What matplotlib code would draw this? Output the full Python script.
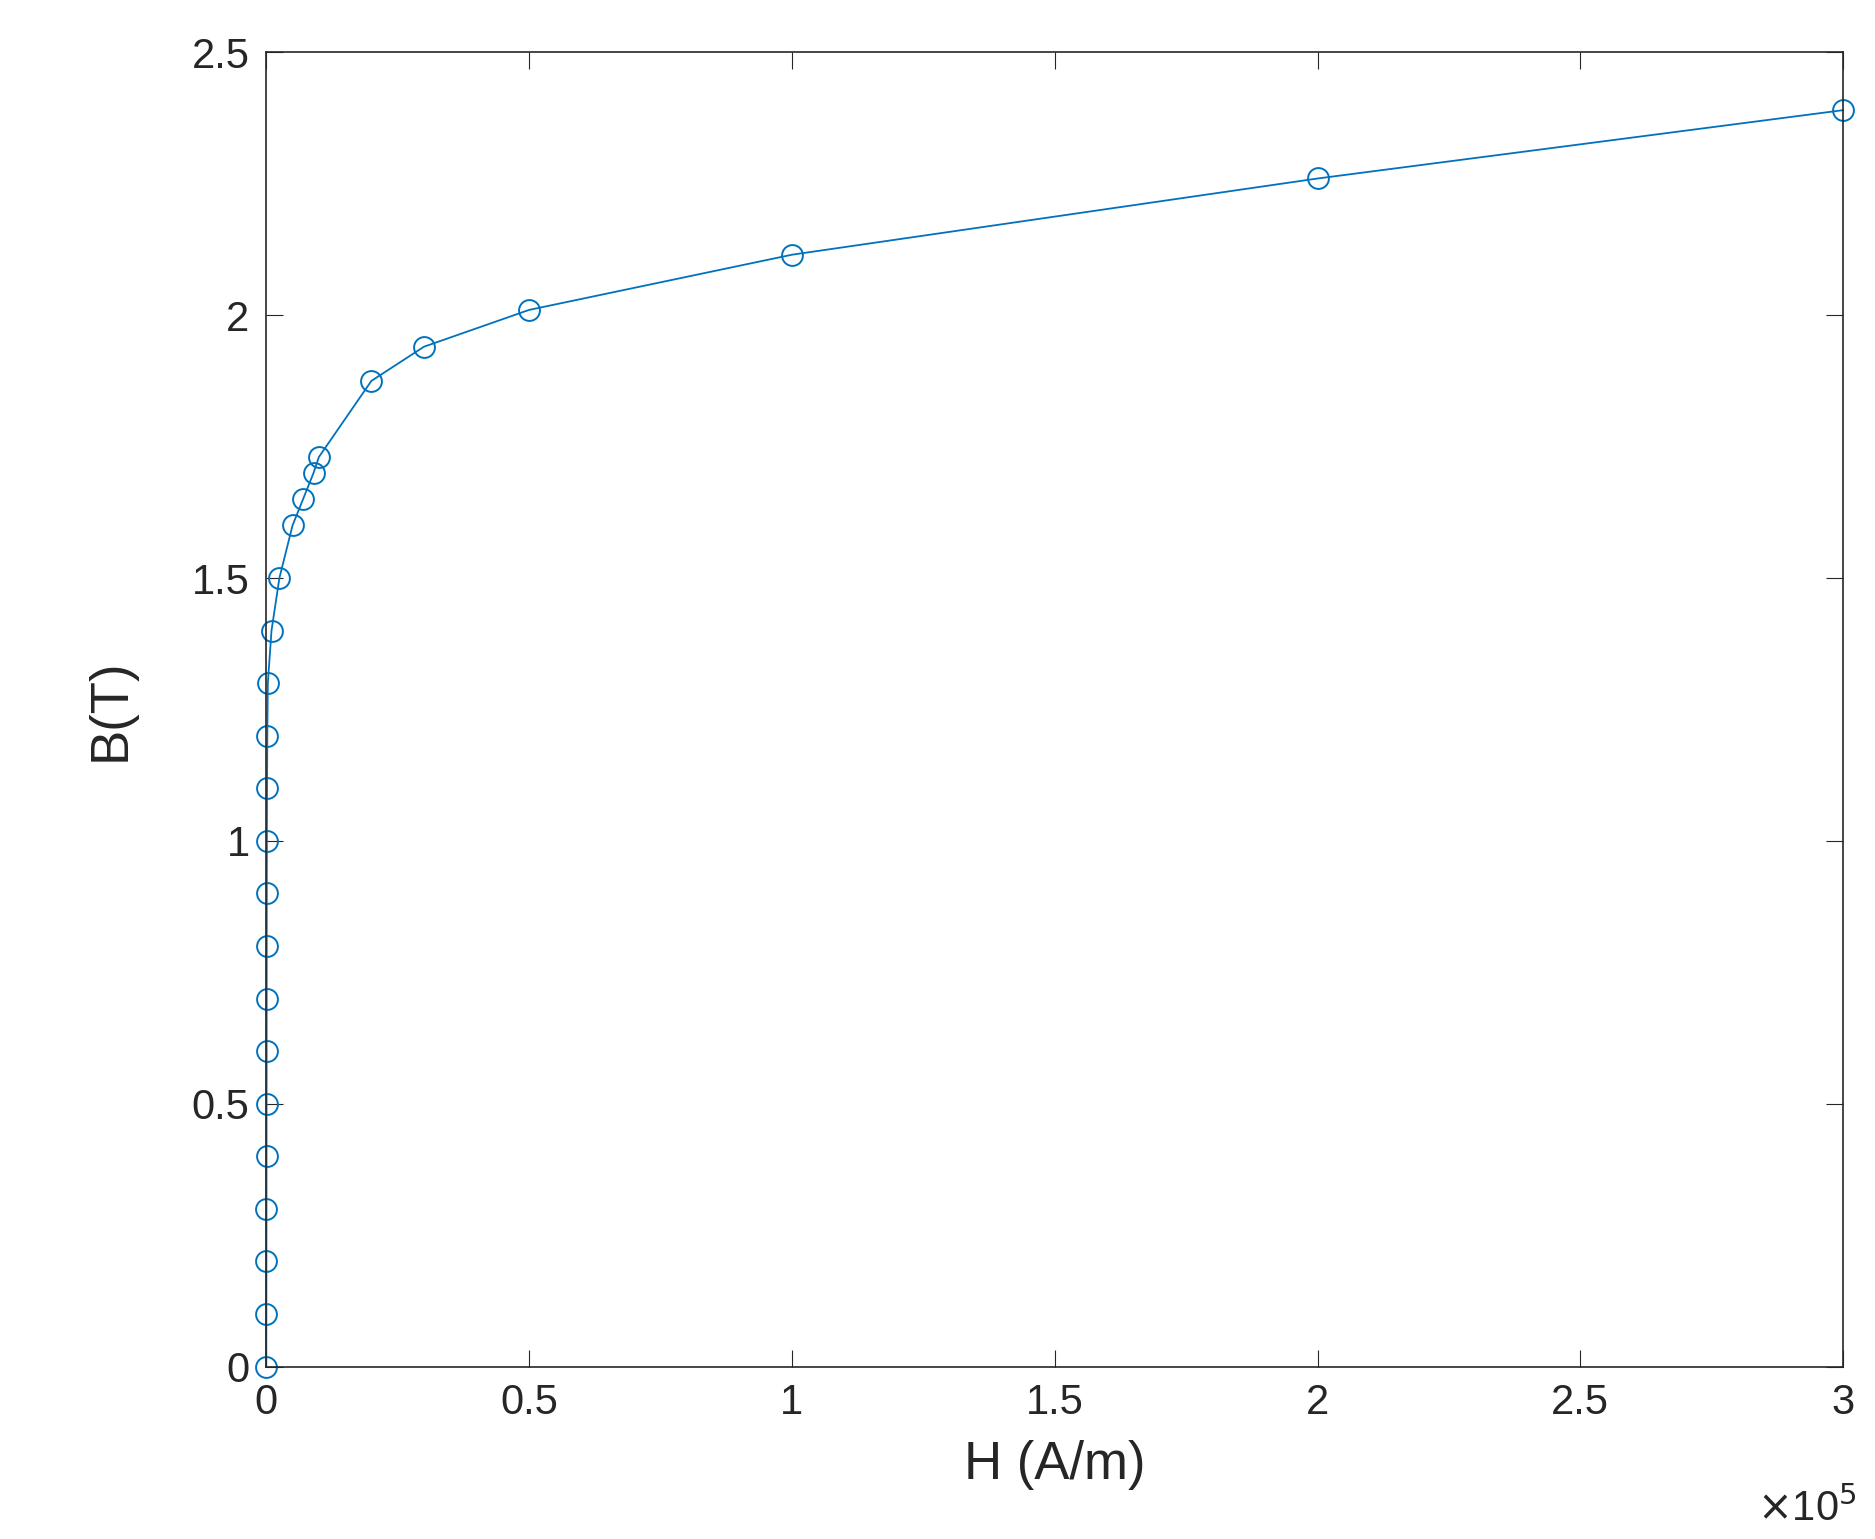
import matplotlib
matplotlib.use("Agg")
import matplotlib.pyplot as plt

plt.rcParams['font.family'] = ['Liberation Sans', 'DejaVu Sans']

B = [0, 0.1, 0.2, 0.3, 0.4, 0.5, 0.6, 0.7, 0.8, 0.9, 1.0, 1.1, 1.2, 1.3, 1.4,
     1.5, 1.6, 1.65, 1.7, 1.73, 1.875, 1.94, 2.01, 2.115, 2.26, 2.39]
H = [0, 20, 30, 40, 50, 60, 70, 80, 90, 100, 120, 150, 200, 300, 1000,
     2500, 5000, 7000, 9000, 10000, 20000, 30000, 50000, 100000, 200000, 300000]

fig = plt.figure(figsize=(18.75, 15.39), dpi=100)
ax = fig.add_axes([0.142, 0.112, 0.841, 0.854])
ax.plot(H, B, color='#0072BD', lw=1.3, marker='o', ms=15, mfc='none', mew=1.4,
        clip_on=False)
ax.set_xlim(0, 300000)
ax.set_ylim(0, 2.5)
ax.set_xticks([0, 50000, 100000, 150000, 200000, 250000, 300000])
ax.set_xticklabels(['0', '0.5', '1', '1.5', '2', '2.5', '3'])
ax.set_yticks([0, 0.5, 1, 1.5, 2, 2.5])
ax.set_yticklabels(['0', '0.5', '1', '1.5', '2', '2.5'])
ax.tick_params(labelsize=30, direction='in', length=12, top=True, right=True,
               colors='#262626', pad=12)
for s in ax.spines.values():
    s.set_color('#262626')
    s.set_linewidth(1.2)
ax.set_xlabel('H (A/m)', fontsize=38, color='#262626', labelpad=12)
ax.set_ylabel('B(T)', fontsize=38, color='#262626', labelpad=40)
fig.text(0.99, 0.012, r'$\times$10$^5$', fontsize=30, color='#262626', ha='right')
fig.savefig('out.png', dpi=100)
